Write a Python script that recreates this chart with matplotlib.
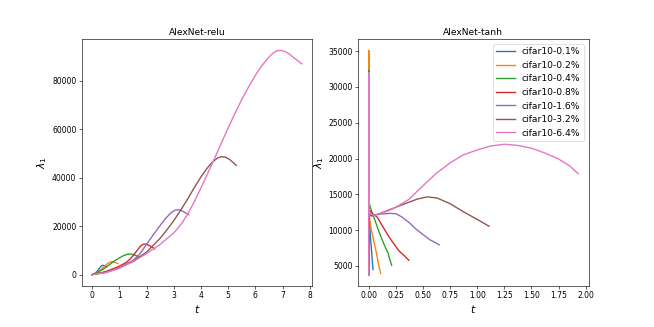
import matplotlib
matplotlib.use('Agg')
import matplotlib.pyplot as plt
from matplotlib.ticker import MultipleLocator

labels = ['cifar10-0.1%', 'cifar10-0.2%', 'cifar10-0.4%', 'cifar10-0.8%',
          'cifar10-1.6%', 'cifar10-3.2%', 'cifar10-6.4%']

# AlexNet-relu curves (t, lambda_1)
relu_t = [
    [0, 0.1, 0.2, 0.28, 0.35, 0.42, 0.48, 0.52],
    [0, 0.15, 0.3, 0.45, 0.55, 0.65, 0.75, 0.85, 0.95],
    [0, 0.2, 0.4, 0.6, 0.8, 1.0, 1.15, 1.3, 1.4, 1.5, 1.6, 1.7],
    [0, 0.25, 0.5, 0.75, 1.0, 1.25, 1.4, 1.55, 1.7, 1.8, 1.9, 2.0, 2.1, 2.2, 2.3],
    [0, 0.5, 1.0, 1.5, 1.75, 2.0, 2.25, 2.5, 2.7, 2.9, 3.05, 3.2, 3.35, 3.45, 3.55],
    [0, 0.5, 1.0, 1.5, 2.0, 2.5, 2.75, 3.0, 3.25, 3.5, 3.75, 4.0, 4.2, 4.4, 4.6,
     4.75, 4.9, 5.05, 5.2, 5.3],
    [0, 0.5, 1.0, 1.5, 2.0, 2.5, 3.0, 3.25, 3.5, 3.75, 4.0, 4.25, 4.5, 4.75, 5.0,
     5.25, 5.5, 5.75, 6.0, 6.25, 6.5, 6.65, 6.8, 6.95, 7.1, 7.25, 7.4, 7.55, 7.7],
]
relu_y = [
    [0, 500, 1600, 2900, 3700, 3800, 3400, 3200],
    [0, 700, 1900, 3400, 4400, 5100, 5300, 5000, 4500],
    [0, 900, 2200, 3800, 5500, 6900, 7800, 8400, 8500, 8300, 7900, 7300],
    [0, 500, 1300, 2300, 3500, 5000, 6500, 8500, 10700, 12000, 12600, 12500,
     12000, 11300, 10600],
    [0, 1000, 2800, 5800, 8500, 12500, 16500, 20300, 23200, 25500, 26600, 26700,
     26000, 25300, 24700],
    [0, 900, 2700, 5500, 9300, 15000, 18500, 22300, 26500, 31000, 35800, 40300,
     43500, 46200, 48000, 48600, 48400, 47500, 46000, 45000],
    [0, 800, 2700, 5300, 8700, 12500, 17200, 20500, 24700, 30000, 35800, 41800,
     48000, 54300, 60500, 66500, 72200, 77400, 82200, 86300, 89700, 91300, 92300,
     92400, 91900, 90900, 89500, 88200, 86900],
]

# AlexNet-tanh curves (t, lambda_1)
tanh_t = [
    [0, 0.001, 0.003, 0.01, 0.02, 0.03, 0.04],
    [0, 0.001, 0.003, 0.01, 0.025, 0.04, 0.055, 0.07, 0.09, 0.11],
    [0, 0.001, 0.003, 0.01, 0.03, 0.055, 0.085, 0.115, 0.145, 0.176, 0.195, 0.212],
    [0, 0.001, 0.003, 0.018, 0.035, 0.055, 0.08, 0.11, 0.146, 0.19, 0.237, 0.28,
     0.33, 0.37],
    [0, 0.001, 0.004, 0.02, 0.05, 0.1, 0.15, 0.2, 0.25, 0.3, 0.37, 0.44, 0.5,
     0.56, 0.61, 0.65],
    [0, 0.001, 0.005, 0.03, 0.1, 0.2, 0.3, 0.37, 0.45, 0.54, 0.63, 0.75, 0.87,
     1.0, 1.11],
    [0, 0.001, 0.006, 0.05, 0.1, 0.18, 0.25, 0.37, 0.5, 0.62, 0.75, 0.87, 1.0,
     1.12, 1.25, 1.37, 1.5, 1.62, 1.75, 1.85, 1.93],
]
tanh_y = [
    [3800, 30000, 12000, 10500, 8300, 6400, 4500],
    [3800, 35100, 12300, 11500, 10000, 9000, 7900, 6900, 5300, 3950],
    [3800, 32300, 13900, 13500, 12500, 11500, 10200, 9000, 7900, 6900, 5900, 5100],
    [3800, 31000, 12500, 12700, 12300, 12100, 11800, 11000, 10100, 9000, 8000, 7100,
     6400, 5800],
    [3800, 31000, 12400, 12000, 12100, 12250, 12300, 12350, 12300, 11900, 11100,
     10100, 9400, 8700, 8300, 7950],
    [3800, 31000, 12500, 12000, 12300, 12900, 13500, 13900, 14350, 14650, 14500,
     13700, 12600, 11500, 10550],
    [3800, 32000, 12300, 12100, 12300, 12700, 13200, 14300, 16200, 17900, 19400,
     20500, 21200, 21750, 22000, 21850, 21450, 20800, 19950, 19000, 17900],
]

fig, (ax1, ax2) = plt.subplots(1, 2, figsize=(12, 6), dpi=54.5)
plt.subplots_adjust(bottom=0.126)

for t, y, lab in zip(relu_t, relu_y, labels):
    ax1.plot(t, y, label=lab, lw=1.8)
ax1.set_title('AlexNet-relu')
ax1.set_xlabel('$t$', fontsize=14)
ax1.set_ylabel('$\\lambda_1$', fontsize=14)
ax1.xaxis.set_major_locator(MultipleLocator(1))

for t, y, lab in zip(tanh_t, tanh_y, labels):
    ax2.plot(t, y, label=lab, lw=1.8)
ax2.set_title('AlexNet-tanh')
ax2.set_xlabel('$t$', fontsize=14)
ax2.set_ylabel('$\\lambda_1$', fontsize=14)
ax2.xaxis.set_major_locator(MultipleLocator(0.25))
ax2.legend(loc='upper right', fontsize=12)

plt.savefig('out.png', dpi=54.5)
